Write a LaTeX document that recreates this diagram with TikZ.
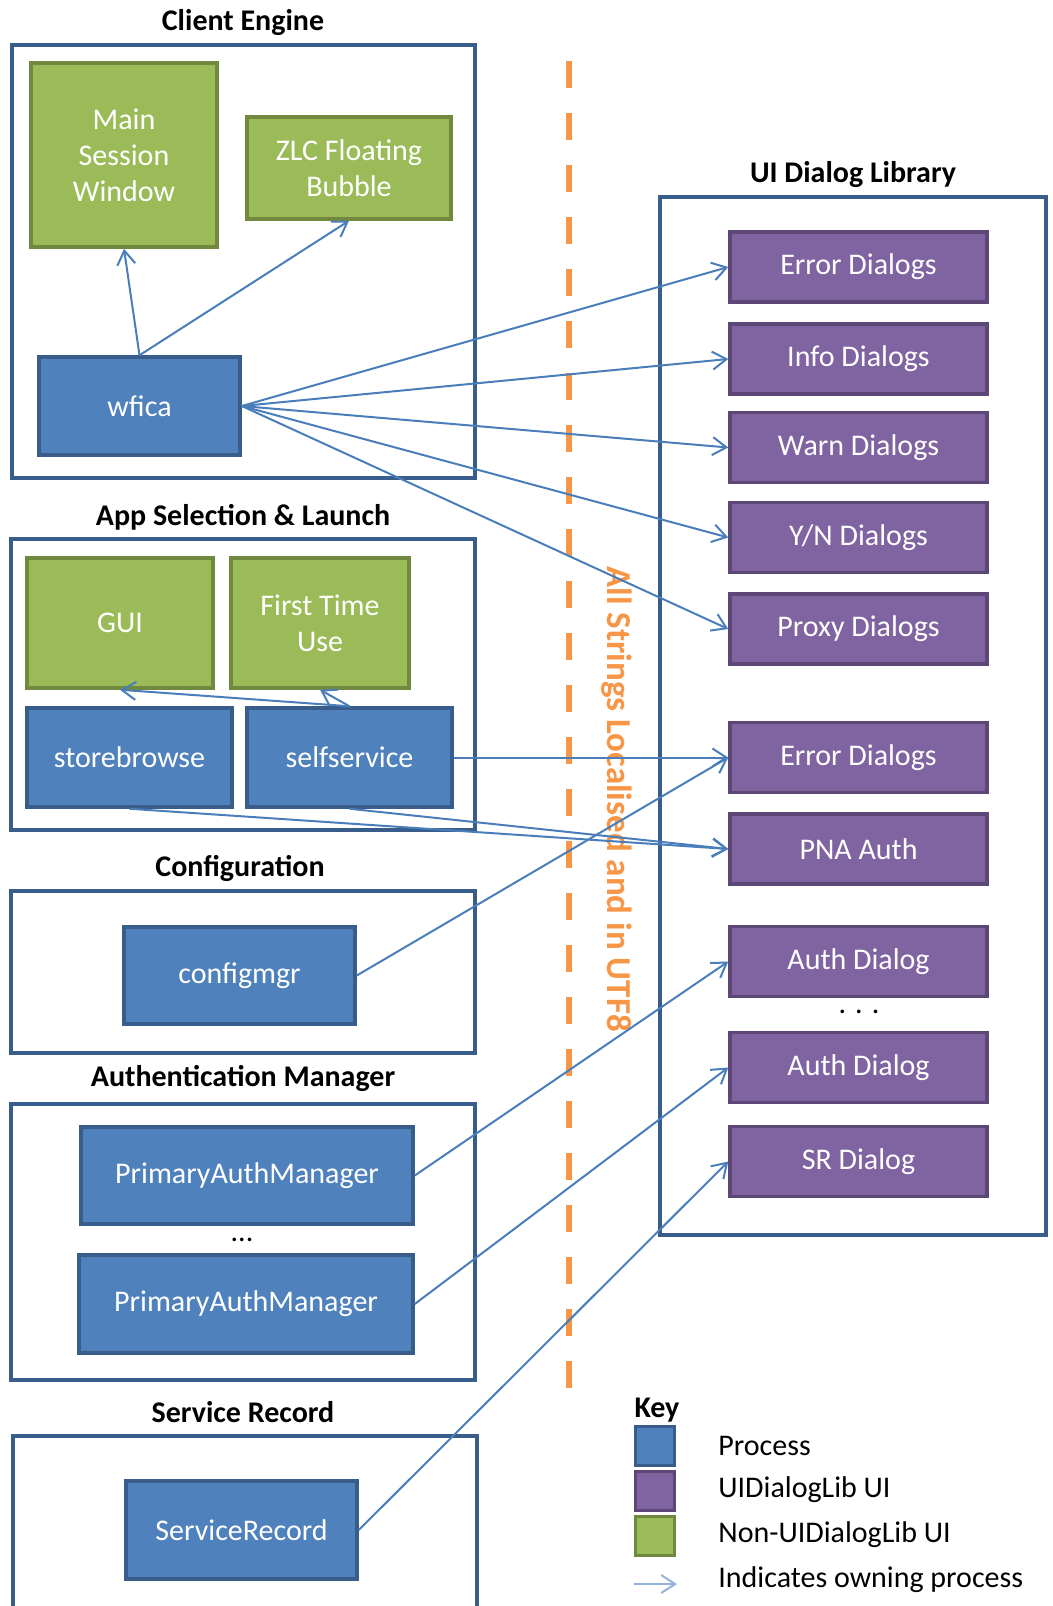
\documentclass[tikz,border=0pt]{standalone}
\usepackage{fontspec}
\setmainfont{Carlito}
\usetikzlibrary{arrows.meta}
\definecolor{procblue}{HTML}{4F81BD}
\definecolor{procedge}{HTML}{385D8A}
\definecolor{uigreen}{HTML}{9BBB59}
\definecolor{uiedge}{HTML}{71893F}
\definecolor{dlgpurple}{HTML}{8064A2}
\definecolor{dlgedge}{HTML}{5C4776}
\definecolor{ownblue}{HTML}{4A7EBB}
\definecolor{keyblue}{HTML}{95B3D7}
\definecolor{lineorange}{HTML}{F79646}

\begin{document}
\begin{tikzpicture}[x=0.5pt, y=-0.5pt,
  grp/.style={draw=procedge, line width=2pt},
  ttl/.style={font=\fontsize{15}{18}\selectfont\bfseries, inner sep=0pt},
  box/.style={rectangle, line width=1.75pt, text=white, align=center, inner sep=0pt, font=\fontsize{15}{18}\selectfont},
  proc/.style={box, fill=procblue, draw=procedge},
  nonui/.style={box, fill=uigreen, draw=uiedge},
  dlg/.style={box, fill=dlgpurple, draw=dlgedge, minimum width=128.5pt, minimum height=35pt},
  keysq/.style={rectangle, line width=1.5pt, minimum size=19.5pt, inner sep=0pt},
  keytxt/.style={anchor=west, inner sep=0pt, font=\fontsize{15}{18}\selectfont},
  own/.style={-{Straight Barb[length=7pt,width=9pt]}, line width=1pt, draw=ownblue}]
\useasboundingbox (0,0) rectangle (1053,1606);
\clip (0,0) rectangle (1053,1606);

% group frames and titles
\draw[grp] (12,45) rectangle (475,478);
\node[ttl] (tce) at (243,23) {Client Engine};
\draw[grp] (11,539) rectangle (475,830);
\node[ttl] (tasl) at (243,517) {App Selection \& Launch};
\draw[grp] (11,891) rectangle (475,1053);
\node[ttl] (tcfg) at (240,868) {Configuration};
\draw[grp] (11,1104) rectangle (475,1380);
\node[ttl] (tam) at (243,1078) {Authentication Manager};
\draw[grp] (13,1436) rectangle (477,1614);
\node[ttl] (tsr) at (243,1412) {Service Record};
\draw[grp] (660,197) rectangle (1046,1235);
\node[ttl] (tuid) at (853,175) {UI Dialog Library};

% localisation boundary
\draw[lineorange, line width=3pt, dash pattern=on 13.5pt off 12.5pt] (569,61) -- (569,1405);
\node[rotate=-90, text=lineorange, inner sep=0pt, font=\fontsize{17.5}{21}\selectfont\bfseries] (utf) at (617,799) {All Strings Localised and in UTF8};

% client engine
\node[nonui, minimum width=93pt, minimum height=92pt] (msw) at (124,155) {Main\\Session\\Window};
\node[nonui, minimum width=102pt, minimum height=51pt] (zlc) at (349,168) {ZLC Floating\\Bubble};
\node[proc, minimum width=100.5pt, minimum height=49pt] (wfica) at (139.5,406) {wfica};

% app selection & launch
\node[nonui, minimum width=93pt, minimum height=65pt] (gui) at (120,623) {GUI};
\node[nonui, minimum width=89pt, minimum height=65pt] (ftu) at (320,623) {First Time\\Use};
\node[proc, minimum width=102.5pt, minimum height=49.5pt] (sb) at (129.5,757.5) {storebrowse};
\node[proc, minimum width=102.5pt, minimum height=49.5pt] (ss) at (349.5,757.5) {selfservice};

% configuration
\node[proc, minimum width=115.5pt, minimum height=48.5pt] (cfg) at (239.5,975.5) {configmgr};

% authentication manager
\node[proc, minimum width=166pt, minimum height=48.5pt] (pam1) at (247,1175.5) {PrimaryAuthManager};
\node[inner sep=0pt, font=\fontsize{15}{18}\selectfont] (dots1) at (242,1240) {...};
\node[proc, minimum width=167pt, minimum height=49pt] (pam2) at (246,1304) {PrimaryAuthManager};

% service record
\node[proc, minimum width=115.5pt, minimum height=49pt] (sr) at (241.5,1530) {ServiceRecord};

% ui dialog library
\node[dlg] (err1) at (858.5,267) {Error Dialogs};
\node[dlg] (info) at (858.5,359) {Info Dialogs};
\node[dlg] (warn) at (858.5,447.5) {Warn Dialogs};
\node[dlg] (yn) at (858.5,537.5) {Y/N Dialogs};
\node[dlg] (proxy) at (858.5,629) {Proxy Dialogs};
\node[dlg] (err2) at (858.5,757.5) {Error Dialogs};
\node[dlg] (pna) at (858.5,849) {PNA Auth};
\node[dlg] (auth1) at (858.5,961.5) {Auth Dialog};
\node[inner sep=0pt, font=\fontsize{15}{18}\selectfont] (dots2) at (859,1012) {. . .};
\node[dlg] (auth2) at (858.5,1067.5) {Auth Dialog};
\node[dlg] (srd) at (858.5,1161.5) {SR Dialog};

% owning process arrows
\path (wfica.north) edge[own] (msw.south);
\path (wfica.north) edge[own] (zlc.south);
\path (wfica.east) edge[own] (err1.west);
\path (wfica.east) edge[own] (info.west);
\path (wfica.east) edge[own] (warn.west);
\path (wfica.east) edge[own] (yn.west);
\path (wfica.east) edge[own] (proxy.west);
\path (ss.north) edge[own] (ftu.south);
\path (ss.north) edge[own] (gui.south);
\path (ss.east) edge[own] (err2.west);
\path (sb.south) edge[own] (pna.west);
\path (ss.south) edge[own] (pna.west);
\path (cfg.east) edge[own] (err2.west);
\path (pam1.east) edge[own] (auth1.west);
\path (pam2.east) edge[own] (auth2.west);
\path (sr.east) edge[own] (srd.west);

% key
\node[ttl] (key) at (657,1410) {Key};
\node[keysq, fill=procblue, draw=procedge] (kproc) at (655,1446) {};
\node[keysq, fill=dlgpurple, draw=dlgedge] (kdlg) at (655,1491) {};
\node[keysq, fill=uigreen, draw=uiedge] (knon) at (655,1535.5) {};
\node[keytxt] (lproc) at (718,1446) {Process};
\node[keytxt] (ldlg) at (718,1490) {UIDialogLib UI};
\node[keytxt] (lnon) at (718,1535) {Non-UIDialogLib UI};
\node[keytxt] (lown) at (718,1580) {Indicates owning process};
\coordinate (ka) at (634,1584);
\coordinate (kb) at (677,1584);
\path (ka) edge[own, draw=keyblue] (kb);
\end{tikzpicture}
\end{document}
